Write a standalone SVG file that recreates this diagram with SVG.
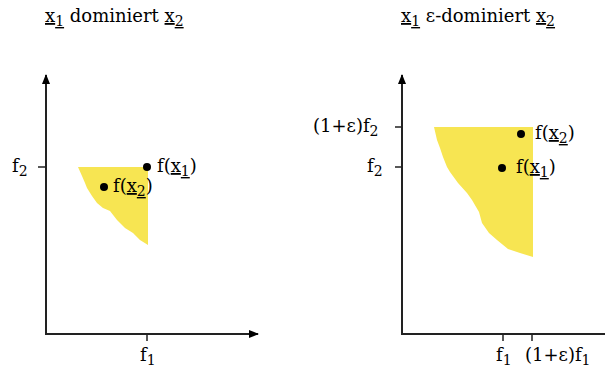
<svg xmlns="http://www.w3.org/2000/svg" width="605" height="375" viewBox="0 0 605 375">
<defs>
<style>
text{font-family:"DejaVu Serif","Liberation Serif",serif;font-size:18px;fill:#000}
.u{text-decoration:underline}
.s{font-size:14px}
.e{text-anchor:end}
.ax{stroke:#222;stroke-width:2;fill:none}
.tk{stroke:#222;stroke-width:1.5}
.reg{fill:#F7E552}
</style>
<marker id="ah" markerWidth="10" markerHeight="10" refX="9" refY="5" orient="auto" markerUnits="userSpaceOnUse">
<path d="M0,1 L10,5 L0,9 Z" fill="#000"/>
</marker>
</defs>
<rect width="605" height="375" fill="#fff"/>
<g id="title-left"><text x="45" y="22"><tspan class="u">x<tspan class="s" dy="4">1</tspan></tspan><tspan dy="-4"> dominiert </tspan><tspan class="u">x<tspan class="s" dy="4">2</tspan></tspan></text></g>
<g id="title-right"><text x="401" y="22"><tspan class="u">x<tspan class="s" dy="4">1</tspan></tspan><tspan dy="-4"> ε-dominiert </tspan><tspan class="u">x<tspan class="s" dy="4">2</tspan></tspan></text></g>
<g id="region-left"><path class="reg" d="M78,167 L148,167 L148,245 L140,240 L133,233 L125,228 L117,220 L110,211 L103,208 L97,203 L92,196 L87,188 L85,183 L82,176 Z"/></g>
<g id="region-right"><path class="reg" d="M434,127 L533,127 L533,257 L520,253 L508,249 L497,240 L489,233 L482,223 L479,212 L472,200 L467,193 L458,183 L450,172 L447,167 L443,157 L440,148 L437,140 Z"/></g>
<g id="connectors">
<path class="ax" d="M46,334 V75" marker-end="url(#ah)"/>
<path class="ax" d="M45,334 H258" marker-end="url(#ah)"/>
<path class="ax" d="M402,334 V75" marker-end="url(#ah)"/>
<path class="ax" d="M401,334 H605"/>
<path class="tk" d="M38,167 H46 M147,334 V341 M395,127 H402 M395,167 H402 M503,334 V341 M532,334 V341"/>
</g>
<g id="axis-labels">
<text x="12" y="172">f<tspan class="s" dy="4">2</tspan></text>
<text x="140" y="361">f<tspan class="s" dy="4">1</tspan></text>
<text x="313" y="132">(1+ε)f<tspan class="s" dy="4">2</tspan></text>
<text x="367" y="172">f<tspan class="s" dy="4">2</tspan></text>
<text x="496" y="361">f<tspan class="s" dy="4">1</tspan></text>
<text x="525" y="361">(1+ε)f<tspan class="s" dy="4">1</tspan></text>
</g>
<g id="point-left-x1"><circle cx="147" cy="167" r="4"/><text x="157" y="172">f(<tspan class="u">x<tspan class="s" dy="4">1</tspan></tspan><tspan dy="-4">)</tspan></text></g>
<g id="point-left-x2"><circle cx="104" cy="187" r="4"/><text x="113" y="192">f(<tspan class="u">x<tspan class="s" dy="4">2</tspan></tspan><tspan dy="-4">)</tspan></text></g>
<g id="point-right-x2"><circle cx="521" cy="134" r="4"/><text x="535" y="139">f(<tspan class="u">x<tspan class="s" dy="4">2</tspan></tspan><tspan dy="-4">)</tspan></text></g>
<g id="point-right-x1"><circle cx="502" cy="168" r="4"/><text x="516" y="173">f(<tspan class="u">x<tspan class="s" dy="4">1</tspan></tspan><tspan dy="-4">)</tspan></text></g>
</svg>
